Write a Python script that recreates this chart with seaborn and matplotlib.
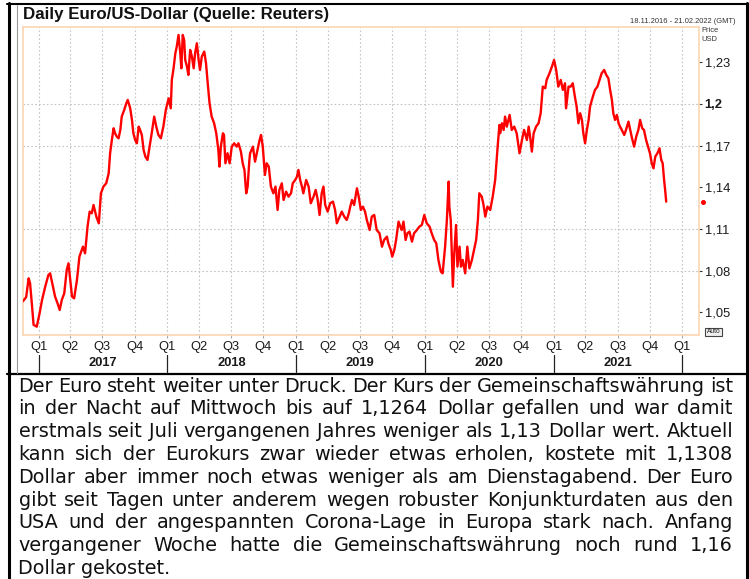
import numpy as np
import pandas as pd
import matplotlib
matplotlib.use("Agg")
import matplotlib.pyplot as plt
import matplotlib.transforms as mtransforms
from matplotlib.lines import Line2D
from matplotlib.patches import Rectangle
import seaborn as sns

# ---------------- data ----------------
dates = [
    "2016-11-18", "2016-11-27", "2016-12-04", "2016-12-08", "2016-12-13", "2016-12-18", "2016-12-27",
    "2017-01-04", "2017-01-11", "2017-01-20", "2017-01-29", "2017-02-03", "2017-02-11", "2017-02-17",
    "2017-02-24", "2017-03-02", "2017-03-08", "2017-03-15", "2017-03-22", "2017-03-27", "2017-04-01",
    "2017-04-06", "2017-04-12", "2017-04-20", "2017-04-27", "2017-05-07", "2017-05-13", "2017-05-20",
    "2017-05-26", "2017-06-01", "2017-06-06", "2017-06-14", "2017-06-21", "2017-06-27", "2017-07-04",
    "2017-07-12", "2017-07-19", "2017-07-23", "2017-07-28", "2017-08-02", "2017-08-06", "2017-08-11",
    "2017-08-16", "2017-08-21", "2017-08-25", "2017-09-01", "2017-09-07", "2017-09-11", "2017-09-18",
    "2017-09-23", "2017-09-27", "2017-10-02", "2017-10-07", "2017-10-12", "2017-10-16", "2017-10-21",
    "2017-10-26", "2017-10-31", "2017-11-06", "2017-11-12", "2017-11-18", "2017-11-25", "2017-12-01",
    "2017-12-07", "2017-12-14", "2017-12-21", "2017-12-28",
    "2018-01-05", "2018-01-11", "2018-01-14", "2018-01-19", "2018-01-24", "2018-01-28", "2018-02-02",
    "2018-02-07", "2018-02-10", "2018-02-14", "2018-02-18", "2018-02-21", "2018-02-26", "2018-03-02",
    "2018-03-07", "2018-03-12", "2018-03-17", "2018-03-21", "2018-03-26", "2018-03-31", "2018-04-04",
    "2018-04-09", "2018-04-16", "2018-04-21", "2018-04-25", "2018-05-01", "2018-05-07", "2018-05-14",
    "2018-05-20", "2018-05-26", "2018-05-29", "2018-06-02", "2018-06-08", "2018-06-11", "2018-06-15",
    "2018-06-21", "2018-06-27", "2018-07-03", "2018-07-10", "2018-07-17", "2018-07-22", "2018-07-29",
    "2018-08-03", "2018-08-08", "2018-08-13", "2018-08-17", "2018-08-22", "2018-08-24", "2018-09-01",
    "2018-09-07", "2018-09-14", "2018-09-20", "2018-09-24", "2018-09-29", "2018-10-05", "2018-10-10",
    "2018-10-16", "2018-10-22", "2018-10-29", "2018-11-04", "2018-11-10", "2018-11-15", "2018-11-22",
    "2018-11-27", "2018-12-04", "2018-12-11", "2018-12-18", "2018-12-23", "2018-12-30",
    "2019-01-04", "2019-01-08", "2019-01-13", "2019-01-18", "2019-01-22", "2019-01-30", "2019-02-06",
    "2019-02-12", "2019-02-20", "2019-02-26", "2019-03-03", "2019-03-09", "2019-03-15", "2019-03-20",
    "2019-03-25", "2019-04-01", "2019-04-08", "2019-04-16", "2019-04-22", "2019-04-27", "2019-05-05",
    "2019-05-11", "2019-05-18", "2019-05-25", "2019-05-31", "2019-06-04", "2019-06-09", "2019-06-15",
    "2019-06-23", "2019-06-28", "2019-07-04", "2019-07-10", "2019-07-16", "2019-07-21", "2019-07-29",
    "2019-08-04", "2019-08-11", "2019-08-18", "2019-08-26", "2019-09-02", "2019-09-08", "2019-09-16",
    "2019-09-20", "2019-09-27", "2019-10-01", "2019-10-07", "2019-10-12", "2019-10-19", "2019-10-24",
    "2019-10-28", "2019-11-02", "2019-11-08", "2019-11-13", "2019-11-19", "2019-11-26", "2019-12-02",
    "2019-12-10", "2019-12-17", "2019-12-24", "2019-12-31",
    "2020-01-07", "2020-01-15", "2020-01-21", "2020-01-28", "2020-02-03", "2020-02-09", "2020-02-16",
    "2020-02-21", "2020-02-28", "2020-03-04", "2020-03-09", "2020-03-11", "2020-03-15", "2020-03-18",
    "2020-03-21", "2020-03-25", "2020-03-30", "2020-04-03", "2020-04-09", "2020-04-13", "2020-04-18",
    "2020-04-25", "2020-05-01", "2020-05-07", "2020-05-14", "2020-05-20", "2020-05-26", "2020-05-31",
    "2020-06-04", "2020-06-11", "2020-06-16", "2020-06-21", "2020-06-27", "2020-07-05", "2020-07-12",
    "2020-07-19", "2020-07-26", "2020-07-31", "2020-08-02", "2020-08-07", "2020-08-12", "2020-08-16",
    "2020-08-21", "2020-08-29", "2020-09-04", "2020-09-11", "2020-09-18", "2020-09-26", "2020-10-03",
    "2020-10-09", "2020-10-17", "2020-10-22", "2020-10-26", "2020-10-31", "2020-11-05", "2020-11-12",
    "2020-11-19", "2020-11-25", "2020-12-01", "2020-12-08", "2020-12-12", "2020-12-20", "2020-12-27",
    "2021-01-02", "2021-01-08", "2021-01-14", "2021-01-21", "2021-01-27", "2021-02-02", "2021-02-05",
    "2021-02-12", "2021-02-18", "2021-02-24", "2021-03-02", "2021-03-07", "2021-03-12", "2021-03-17",
    "2021-03-22", "2021-03-26", "2021-03-31", "2021-04-05", "2021-04-10", "2021-04-14", "2021-04-22",
    "2021-04-28", "2021-05-05", "2021-05-11", "2021-05-17", "2021-05-24", "2021-05-30", "2021-06-05",
    "2021-06-10", "2021-06-15", "2021-06-19", "2021-06-24", "2021-06-29", "2021-07-04", "2021-07-08",
    "2021-07-13", "2021-07-20", "2021-07-25", "2021-08-01", "2021-08-06", "2021-08-10", "2021-08-17",
    "2021-08-23", "2021-08-29", "2021-09-03", "2021-09-09", "2021-09-14", "2021-09-20", "2021-09-27",
    "2021-10-01", "2021-10-06", "2021-10-11", "2021-10-16", "2021-10-22", "2021-10-28", "2021-11-02",
    "2021-11-06", "2021-11-10", "2021-11-13", "2021-11-16",
]
rates = [
    1.0580, 1.0610, 1.0745, 1.0710, 1.0565, 1.0410, 1.0397,
    1.0493, 1.0589, 1.0685, 1.0769, 1.0781, 1.0685, 1.0613,
    1.0565, 1.0517, 1.0589, 1.0637, 1.0805, 1.0853, 1.0733,
    1.0613, 1.0601, 1.0733, 1.0901, 1.0973, 1.0925, 1.1117,
    1.1225, 1.1213, 1.1273, 1.1189, 1.1141, 1.1357, 1.1405,
    1.1429, 1.1501, 1.1645, 1.1741, 1.1825, 1.1789, 1.1765,
    1.1753, 1.1813, 1.1909, 1.1957, 1.2005, 1.2029, 1.1969,
    1.1885, 1.1789, 1.1741, 1.1717, 1.1837, 1.1813, 1.1777,
    1.1669, 1.1621, 1.1597, 1.1693, 1.1789, 1.1909, 1.1837,
    1.1777, 1.1753, 1.1837, 1.1957,
    1.2041, 1.1969, 1.2173, 1.2257, 1.2365, 1.2413, 1.2497,
    1.2365, 1.2257, 1.2497, 1.2461, 1.2317, 1.2269, 1.2209,
    1.2389, 1.2341, 1.2257, 1.2365, 1.2437, 1.2317, 1.2245,
    1.2341, 1.2377, 1.2293, 1.2173, 1.2005, 1.1909, 1.1861,
    1.1789, 1.1669, 1.1549, 1.1693, 1.1789, 1.1777, 1.1573,
    1.1645, 1.1573, 1.1693, 1.1717, 1.1693, 1.1717, 1.1657,
    1.1573, 1.1525, 1.1357, 1.1405, 1.1597, 1.1645, 1.1693,
    1.1585, 1.1669, 1.1741, 1.1777, 1.1693, 1.1489, 1.1573,
    1.1549, 1.1405, 1.1357, 1.1405, 1.1237, 1.1381, 1.1429,
    1.1309, 1.1369, 1.1333, 1.1357, 1.1429, 1.1453,
    1.1477, 1.1525, 1.1453, 1.1405, 1.1357, 1.1453, 1.1405,
    1.1285, 1.1333, 1.1381, 1.1321, 1.1201, 1.1357, 1.1405,
    1.1273, 1.1225, 1.1285, 1.1297, 1.1237, 1.1141, 1.1189,
    1.1225, 1.1189, 1.1165, 1.1213, 1.1261, 1.1309, 1.1273,
    1.1393, 1.1333, 1.1237, 1.1261, 1.1225, 1.1165, 1.1093,
    1.1189, 1.1201, 1.1093, 1.1069, 1.0973, 1.1021, 1.1045,
    1.0997, 1.0949, 1.0901, 1.0949, 1.1021, 1.1153, 1.1117,
    1.1093, 1.1153, 1.1021, 1.1069, 1.1081, 1.1009, 1.1069,
    1.1093, 1.1117, 1.1129, 1.1201,
    1.1141, 1.1117, 1.1069, 1.1021, 1.0997, 1.0877, 1.0793,
    1.0781, 1.0973, 1.1165, 1.1441, 1.1261, 1.1165, 1.0925,
    1.0685, 1.0925, 1.1129, 1.0829, 1.0973, 1.0829, 1.0877,
    1.0781, 1.0973, 1.0817, 1.0877, 1.0949, 1.1021, 1.1165,
    1.1357, 1.1333, 1.1273, 1.1189, 1.1261, 1.1237, 1.1333,
    1.1453, 1.1693, 1.1849, 1.1789, 1.1861, 1.1813, 1.1909,
    1.1837, 1.1921, 1.1813, 1.1837, 1.1789, 1.1645, 1.1741,
    1.1813, 1.1741, 1.1837, 1.1765, 1.1657, 1.1789, 1.1837,
    1.1861, 1.1933, 1.2125, 1.2113, 1.2173, 1.2221, 1.2269,
    1.2317, 1.2245, 1.2125, 1.2173, 1.2101, 1.2149, 1.1969,
    1.2125, 1.2125, 1.2149, 1.2053, 1.1981, 1.1861, 1.1933,
    1.1885, 1.1789, 1.1717, 1.1813, 1.1885, 1.1981, 1.2053,
    1.2101, 1.2125, 1.2173, 1.2221, 1.2245, 1.2209, 1.2185,
    1.2101, 1.2029, 1.1933, 1.1885, 1.1921, 1.1861, 1.1837,
    1.1813, 1.1777, 1.1813, 1.1873, 1.1813, 1.1765, 1.1693,
    1.1765, 1.1813, 1.1885, 1.1825, 1.1813, 1.1741, 1.1681,
    1.1645, 1.1573, 1.1537, 1.1621, 1.1645, 1.1681, 1.1597,
    1.1573, 1.1453, 1.1381, 1.1297,
]

quarter_names = ["Q1", "Q2", "Q3", "Q4"]
years = [2017, 2018, 2019, 2020, 2021]
ytick_values = [1.05, 1.08, 1.11, 1.14, 1.17, 1.20, 1.23]
ytick_labels = ["1,05", "1,08", "1,11", "1,14", "1,17", "1,2", "1,23"]
ygrid_values = [1.08, 1.11, 1.17, 1.20]

title_text = "Daily Euro/US-Dollar (Quelle: Reuters)"
range_text = "18.11.2016 - 21.02.2022 (GMT)"
unit_lines = ["Price", "USD"]
article_lines = [
    "Der Euro steht weiter unter Druck. Der Kurs der Gemeinschaftswährung ist",
    "in der Nacht auf Mittwoch bis auf 1,1264 Dollar gefallen und war damit",
    "erstmals seit Juli vergangenen Jahres weniger als 1,13 Dollar wert. Aktuell",
    "kann sich der Eurokurs zwar wieder etwas erholen, kostete mit 1,1308",
    "Dollar aber immer noch etwas weniger als am Dienstagabend. Der Euro",
    "gibt seit Tagen unter anderem wegen robuster Konjunkturdaten aus den",
    "USA und der angespannten Corona-Lage in Europa stark nach. Anfang",
    "vergangener Woche hatte die Gemeinschaftswährung noch rund 1,16",
    "Dollar gekostet.",
]

# ---------------- style ----------------
sns.set_theme(style="white")
plt.rcParams['font.family'] = ['Liberation Sans', 'DejaVu Sans']

W, H = 749, 579
fig = plt.figure(figsize=(W / 100, H / 100), dpi=100)
fig.patch.set_facecolor("white")


def fx(px):
    return px / W


def fy(py):
    return 1 - py / H


AX_L, AX_R, AX_T, AX_B = 23, 699, 27, 335
ax = fig.add_axes([fx(AX_L), fy(AX_B), (AX_R - AX_L) / W, (AX_B - AX_T) / H])
ax.set_facecolor("white")

df = pd.DataFrame({"Datum": pd.to_datetime(dates), "Kurs": rates})
sns.lineplot(data=df, x="Datum", y="Kurs", color="#ff0000", linewidth=1.7,
             estimator=None, ax=ax, zorder=3)

ax.set_xlim(pd.Timestamp("2016-11-18"), pd.Timestamp("2022-02-17"))
ax.set_ylim(1.0337, 1.2554)
ax.set_xlabel("")
ax.set_ylabel("")

# grid
grid_color = "#c4c4c4"
qdates = pd.date_range("2017-01-01", "2022-01-01", freq="QS")
for d in qdates:
    ax.axvline(d, color=grid_color, lw=0.8, ls=(0, (1.5, 2)), zorder=1)
for v in ygrid_values:
    ax.axhline(v, color=grid_color, lw=0.8, ls=(0, (1.5, 2)), zorder=1)

# spines
for s in ax.spines.values():
    s.set_color("#fcd6b3")
    s.set_linewidth(1.2)

# x ticks: quarters
qlabels = [quarter_names[d.quarter - 1] for d in qdates]
ax.set_xticks(qdates)
ax.set_xticklabels(qlabels)
ax.tick_params(axis="x", bottom=True, length=2, width=0.8, color="#aaaaaa",
               pad=2.5, labelsize=9.3, labelcolor="#1a1a1a")

# y ticks on the right
ax.yaxis.tick_right()
ax.set_yticks(ytick_values)
ax.set_yticklabels(ytick_labels)
ax.tick_params(axis="y", right=True, left=False, length=2.4, width=0.8, color="#333333",
               pad=1.6, labelsize=9.3, labelcolor="#1a1a1a")
for lab in ax.get_yticklabels():
    if lab.get_text() == "1,2":
        lab.set_fontweight("bold")

# year labels and separators
blend = mtransforms.blended_transform_factory(ax.transData, fig.transFigure)
for yr in years:
    ax.text(pd.Timestamp(f"{yr}-07-02"), fy(363), str(yr), transform=blend,
            ha="center", va="center", fontsize=9.3, fontweight="bold", color="#1a1a1a")
for yr in years + [years[-1] + 1]:
    ax.add_line(Line2D([pd.Timestamp(f"{yr}-01-01")] * 2, [fy(355), fy(371.5)],
                       transform=blend, color="#222222", lw=0.9, clip_on=False))

# last value marker
blend_y = mtransforms.blended_transform_factory(ax.transAxes, ax.transData)
ax.plot([1.0055], [rates[-1]], marker="o", ms=2.6, color="#ff0000",
        transform=blend_y, clip_on=False, zorder=5)

# header texts
fig.text(fx(23), fy(15), title_text, fontsize=12.2, fontweight="bold",
         ha="left", va="center", color="#111111")
fig.text(fx(735), fy(21.5), range_text, fontsize=5.4, ha="right", va="center", color="#333333")
fig.text(fx(701.5), fy(30), unit_lines[0], fontsize=5.4, ha="left", va="center", color="#333333")
fig.text(fx(701.5), fy(39.5), unit_lines[1], fontsize=5.4, ha="left", va="center", color="#333333")

# Auto box
fig.patches.append(Rectangle((fx(705), fy(336)), (722 - 705) / W, 8.5 / H,
                             transform=fig.transFigure, facecolor="#eeeeee",
                             edgecolor="#444444", lw=0.8))
fig.text(fx(713.5), fy(331.8), "Auto", fontsize=4.8, ha="center", va="center", color="#222222")

# frame lines
def fline(x0, y0, x1, y1, color="black", lw=1.0):
    fig.add_artist(Line2D([fx(x0), fx(x1)], [fy(y0), fy(y1)], transform=fig.transFigure,
                          color=color, lw=lw))

fline(8.5, 3, 8.5, 579, lw=2.2)
fline(746.5, 3, 746.5, 579, lw=2.2)
fline(7, 4, 748, 4, lw=1.5)
fline(7, 373.5, 748, 373.5, lw=1.6)
fline(17, 5, 17, 372.5, color="#999999", lw=0.8)

# article text, justified
fig.canvas.draw()
renderer = fig.canvas.get_renderer()
LEFT, RIGHT = 18.5, 733
BASE0, STEP = 391.5, 22.8
fam = ["DejaVu Sans"]
# choose a font size so the tightest line (line 3) fills the column with normal spacing
probe = fig.text(0, 0, article_lines[2], fontsize=10, family=fam)
probe_w = probe.get_window_extent(renderer).width
probe.remove()
fsize = 10 * (RIGHT - LEFT - 2) / probe_w
txt_kw = dict(fontsize=fsize, family=fam, color="#111111")
for i, line in enumerate(article_lines):
    yb = BASE0 + i * STEP
    if i == len(article_lines) - 1:
        fig.text(fx(LEFT), fy(yb), line, va="baseline", ha="left", **txt_kw)
        continue
    words = line.split()
    objs = [fig.text(0, 0, w, va="baseline", ha="left", **txt_kw) for w in words]
    widths = [o.get_window_extent(renderer).width for o in objs]
    gap = (RIGHT - LEFT - sum(widths)) / (len(words) - 1)
    x = LEFT
    for o, w in zip(objs, widths):
        o.set_position((fx(x), fy(yb)))
        x += w + gap

fig.savefig("out.png", dpi=100)
